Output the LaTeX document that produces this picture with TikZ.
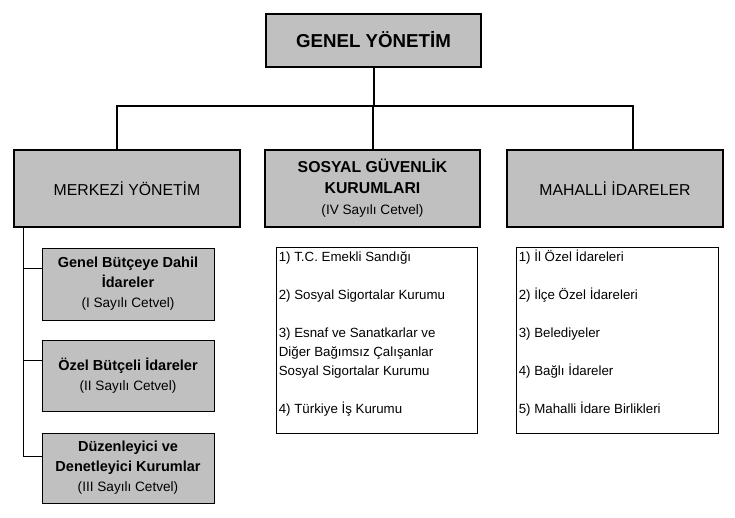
\documentclass[tikz,border=0pt]{standalone}
\usepackage{fontspec}
\setmainfont{Liberation Sans}
\definecolor{boxgray}{HTML}{C0C0C0}
\begin{document}
\begin{tikzpicture}[x=1pt,y=-1pt,
  bigbox/.style={draw=black, line width=2pt, fill=boxgray, inner sep=0pt, align=center},
  subbox/.style={draw=black, line width=0.8pt, fill=boxgray, inner sep=0pt, align=center,
     minimum width=172pt, font=\fontsize{14.5}{20}\selectfont},
  listbox/.style={draw=black, line width=0.8pt, fill=white, inner sep=0pt},
  listtext/.style={anchor=north west, align=left, inner sep=0pt, font=\fontsize{13.3}{19}\selectfont},
  conn/.style={draw=black, line width=2pt},
  thin/.style={draw=black, line width=0.8pt}]
\useasboundingbox (0,0) rectangle (735,517);
\fill[white] (0,0) rectangle (735,517);

\node[bigbox, minimum width=215pt, minimum height=53pt, font=\fontsize{18.7}{22}\selectfont\bfseries]
  (genel) at (373.5,40) {GENEL YÖNETİM};

\node[bigbox, minimum width=226pt, minimum height=77pt, font=\fontsize{15.8}{21}\selectfont]
  (merkezi) at (127,188.5) {MERKEZİ YÖNETİM};
\node[bigbox, minimum width=215pt, minimum height=77pt, font=\fontsize{15.8}{21}\selectfont]
  (sosyal) at (372.5,188.5) {\textbf{SOSYAL GÜVENLİK}\\\textbf{KURUMLARI}\\{\fontsize{13.6}{20}\selectfont (IV Sayılı Cetvel)}};
\node[bigbox, minimum width=216pt, minimum height=77pt, font=\fontsize{15.8}{21}\selectfont]
  (mahalli) at (615,188.5) {MAHALLİ İDARELER};

\coordinate (mL) at (117,106);
\coordinate (mR) at (633,106);
\draw[conn] (genel.south) -- (genel.south |- mL);
\draw[conn] (merkezi.north -| mL) -- (mL) -- (mR) -- (mahalli.north -| mR);
\draw[conn] (sosyal.north) -- (sosyal.north |- mL);

\node[subbox, minimum height=72pt] (sub1) at (128,284)
  {\textbf{Genel Bütçeye Dahil}\\\textbf{İdareler}\\{\fontsize{13.6}{20}\selectfont (I Sayılı Cetvel)}};
\node[subbox, minimum height=71pt] (sub2) at (128,375.5)
  {\textbf{Özel Bütçeli İdareler}\\{\fontsize{13.6}{20}\selectfont (II Sayılı Cetvel)}};
\node[subbox, minimum height=70pt] (sub3) at (128,468)
  {\textbf{Düzenleyici ve}\\\textbf{Denetleyici Kurumlar}\\{\fontsize{13.6}{20}\selectfont (III Sayılı Cetvel)}};

\coordinate (tx) at (23,227);
\coordinate (b1) at ([yshift=16pt]sub1.west);
\coordinate (b2) at ([yshift=15pt]sub2.west);
\coordinate (b3) at ([yshift=12pt]sub3.west);
\draw[thin] (merkezi.south -| tx) -- (tx |- b3);
\draw[thin] (b1) -- (b1 -| tx);
\draw[thin] (b2) -- (b2 -| tx);
\draw[thin] (b3) -- (b3 -| tx);

\node[listbox, minimum width=201pt, minimum height=186pt] (slist) at (376.5,340) {};
\node[listtext] (stext) at ([xshift=3pt,yshift=-3pt]slist.north west)
  {\rule{0pt}{12pt}1) T.C. Emekli Sandığı\\[19pt]2) Sosyal Sigortalar Kurumu\\[19pt]3) Esnaf ve Sanatkarlar ve\\Diğer Bağımsız Çalışanlar\\Sosyal Sigortalar Kurumu\\[19pt]4) Türkiye İş Kurumu};

\node[listbox, minimum width=202pt, minimum height=186pt] (mlist) at (617,340) {};
\node[listtext] (mtext) at ([xshift=3pt,yshift=-3pt]mlist.north west)
  {\rule{0pt}{12pt}1) İl Özel İdareleri\\[19pt]2) İlçe Özel İdareleri\\[19pt]3) Belediyeler\\[19pt]4) Bağlı İdareler\\[19pt]5) Mahalli İdare Birlikleri};
\end{tikzpicture}
\end{document}
